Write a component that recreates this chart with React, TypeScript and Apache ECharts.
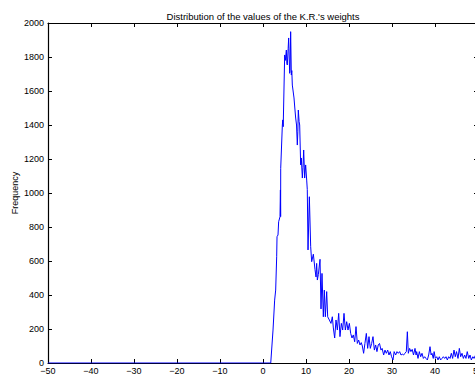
import React, { useEffect, useRef } from "react";
import * as echarts from "echarts";

// Histogram of the weight values (bin centre -> count)
const binCenters: number[] = [
  -50, 1.8, 2.33, 2.71, 2.95, 3.18, 3.26, 3.49, 3.64, 3.95, 4.05, 4.1, 4.12, 4.5, 4.6, 4.7,
  5.04, 5.2, 5.43, 5.55, 5.66, 5.85, 5.97, 6.2, 6.3, 6.43, 6.59, 6.7, 6.82, 7.0, 7.21, 7.4,
  7.6, 7.8, 7.98, 8.1, 8.21, 8.4, 8.53, 8.76, 8.91, 9.15, 9.3, 9.46, 9.69, 9.92, 10.16, 10.3,
  10.47, 10.78, 11.09, 11.32, 11.71, 12.09, 12.33, 12.48, 12.64, 12.87, 13.26, 13.49, 13.72,
  14.03, 14.26, 14.5, 14.81, 15.04, 15.43, 15.81, 16.12, 16.36, 16.67, 16.98, 17.29, 17.6,
  17.9, 18.22, 18.53, 18.84, 19.15, 19.46, 19.77, 20.08, 20.39, 20.7, 21.0, 21.32, 21.63,
  21.94, 22.25, 22.56, 22.85, 23.1, 23.4, 23.7, 24.03, 24.34, 24.65, 24.96, 25.27, 25.58,
  25.9, 26.2, 26.5, 26.8, 27.1, 27.44, 27.7, 28.06, 28.37, 28.68, 29.0, 29.3, 29.6, 29.9,
  30.23, 30.5, 30.85, 31.16, 31.47, 31.78, 32.1, 32.4, 32.7, 33.0, 33.33, 33.57, 33.8, 34.1,
  34.4, 34.7, 35.0, 35.35, 35.6, 35.74, 36.05, 36.36, 36.67, 36.98, 37.3, 37.6, 37.9, 38.22,
  38.53, 38.84, 39.1, 39.3, 39.6, 39.8, 40.08, 40.4, 40.7, 41.0, 41.3, 41.63, 41.94, 42.25,
  42.56, 42.87, 43.18, 43.5, 43.8, 44.1, 44.42, 44.72, 45.0, 45.35, 45.66, 45.97, 46.28,
  46.6, 46.9, 47.2, 47.5, 47.85, 48.14, 48.45, 48.8, 49.07, 49.4, 49.7, 50,
];

const frequencies: number[] = [
  0, 0, 194, 370, 429, 625, 743, 753, 831, 860, 1018, 861, 1145, 1400, 1430, 1390,
  1812, 1780, 1841, 1760, 1753, 1850, 1912, 1704, 1720, 1949, 1694, 1720, 1635, 1600, 1559, 1500,
  1441, 1400, 1282, 1360, 1488, 1420, 1400, 1165, 1206, 1088, 1150, 1253, 1088, 1165, 1076, 1020,
  665, 978, 684, 596, 640, 550, 506, 586, 488, 520, 610, 318, 527,
  272, 429, 272, 420, 272, 253, 233, 272, 206, 147, 253, 194, 292,
  155, 233, 194, 292, 194, 243, 194, 233, 174, 147, 165, 125, 214,
  115, 135, 106, 120, 100, 57, 115, 174, 86, 155, 86, 115, 155,
  76, 106, 67, 106, 115, 76, 86, 47, 76, 57, 76, 47, 67, 37,
  18, 67, 47, 67, 57, 67, 47, 52, 47, 57, 67, 184, 57, 86,
  67, 80, 47, 86, 47, 67, 27, 67, 37, 57, 27, 37, 27, 18,
  47, 96, 47, 57, 27, 67, 27, 37, 18, 37, 18, 27, 37, 27,
  37, 18, 37, 27, 57, 27, 76, 37, 67, 27, 86, 37, 57,
  27, 47, 27, 67, 27, 47, 18, 37, 27, 45, 20, 30,
];

const xTicks = { min: -50, max: 50, interval: 10 };
const yTicks = { min: 0, max: 2000, interval: 200 };

const FONT = "'Liberation Sans', Arial, Helvetica, sans-serif";

const minusFormat = (v: number) => (v < 0 ? "\u2212" + Math.abs(v) : String(v));
const plainFormat = (v: number) => String(v);

export default function App() {
  const ref = useRef<HTMLDivElement>(null);

  useEffect(() => {
    if (!ref.current) return;
    const chart = echarts.init(ref.current, undefined, { renderer: "svg" });
    const data = binCenters.map((x, i) => [x, frequencies[i]]);

    const axisLine = { show: true, onZero: false, lineStyle: { color: "#000", width: 1.2 } };
    const axisTick = { show: true, inside: true, length: 4, lineStyle: { color: "#000", width: 1 } };

    chart.setOption({
      animation: false,
      backgroundColor: "#fff",
      title: {
        text: "Distribution of the values of the K.R.'s weights",
        left: "center",
        top: 6,
        textStyle: { fontSize: 9.5, fontWeight: "normal", color: "#000", fontFamily: FONT },
      },
      graphic: [
        {
          type: "text",
          x: 15,
          y: 193,
          rotation: Math.PI / 2,
          style: {
            text: "Frequency",
            fontSize: 9,
            fill: "#000",
            fontFamily: FONT,
            align: "center",
            verticalAlign: "middle",
          },
        },
      ],
      grid: { left: 48, top: 23, width: 430, height: 340, containLabel: false, outerBoundsMode: "none" },
      xAxis: [
        {
          type: "value",
          position: "bottom",
          ...xTicks,
          axisLine,
          axisTick,
          splitLine: { show: false },
          axisLabel: { fontSize: 9, color: "#000", fontFamily: FONT, margin: 3, formatter: minusFormat },
        },
        {
          type: "value",
          position: "top",
          ...xTicks,
          axisLine,
          axisTick,
          splitLine: { show: false },
          axisLabel: { show: false },
        },
      ],
      yAxis: [
        {
          type: "value",
          position: "left",
          ...yTicks,
          axisLine,
          axisTick,
          splitLine: { show: false },
          axisLabel: { fontSize: 9, color: "#000", fontFamily: FONT, margin: 4, formatter: plainFormat },
        },
        {
          type: "value",
          position: "right",
          ...yTicks,
          axisLine,
          axisTick,
          splitLine: { show: false },
          axisLabel: { show: false },
        },
      ],
      series: [
        {
          type: "line",
          xAxisIndex: 0,
          yAxisIndex: 0,
          data,
          showSymbol: false,
          symbol: "none",
          lineStyle: { color: "#0000ff", width: 1 },
          z: 5,
        },
      ],
    });

    return () => chart.dispose();
  }, []);

  return (
    <div style={{ position: "fixed", left: 0, top: 0, width: 475, height: 376, overflow: "hidden", background: "#fff" }}>
      <div ref={ref} style={{ width: 526, height: 376 }} />
    </div>
  );
}
